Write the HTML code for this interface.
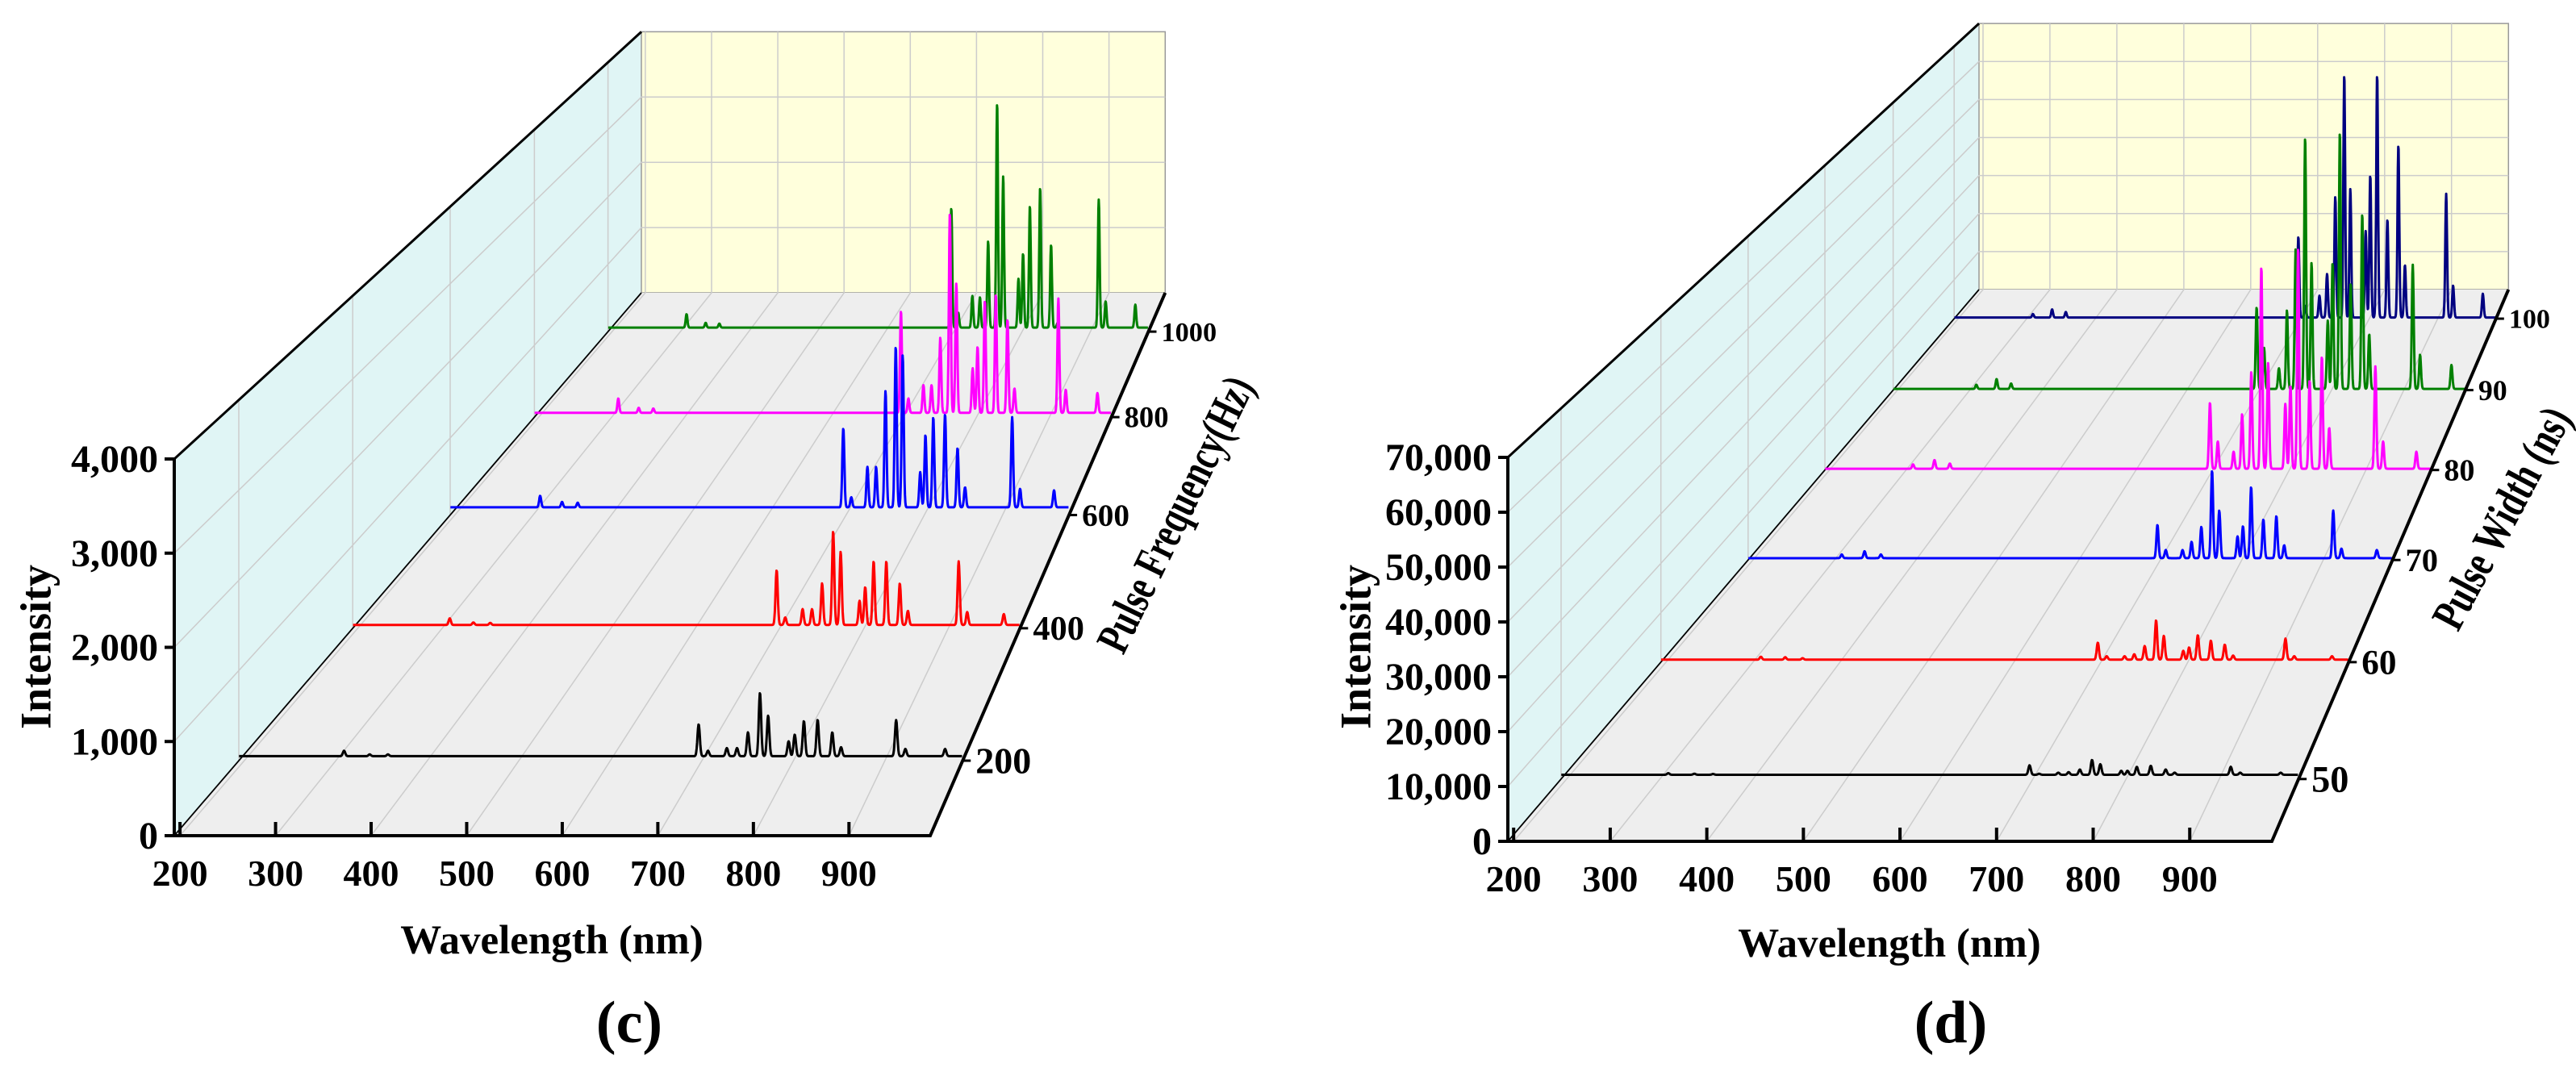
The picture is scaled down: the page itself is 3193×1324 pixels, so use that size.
<!DOCTYPE html>
<html><head><meta charset="utf-8">
<style>
html,body{margin:0;padding:0;background:#fff;}
svg{display:block;}
text{font-family:"Liberation Serif",serif;font-weight:bold;fill:#000;}
</style></head>
<body>
<svg id="fig" width="3193" height="1324" viewBox="0 0 3193 1324" xmlns="http://www.w3.org/2000/svg">
<g id="panelC"></g>
<g id="panelD"></g>
</svg>
<script>
// ---------- data ----------
const peakWavelengths = [309, 337, 357, 696.5, 706.7, 727.3, 738.4, 750.4, 763.5, 772.4, 794.8, 801.5, 811.5, 826.5, 842.5, 852.1, 912.3, 922.4, 965.8];
// panel (c): pulse frequency series
const cDepthValues = [200, 400, 600, 800, 1000];
const cDepthLabels = ["200", "400", "600", "800", "1000"];
const cBaselines = [50, 40, 100, 60, 60];
const cPeaks200 = [60, 20, 20, 355, 60, 90, 90, 265, 705, 450, 165, 240, 390, 405, 265, 100, 400, 80, 80];
const cPeaks400 = [80, 30, 25, 660, 90, 190, 190, 500, 1130, 880, 290, 455, 765, 765, 500, 170, 765, 155, 130];
const cPeaks600 = [150, 70, 60, 1027, 130, 525, 525, 1510, 2090, 1975, 456, 940, 1170, 1210, 770, 260, 1170, 240, 220];
const cPeaks800 = [200, 70, 60, 1420, 200, 385, 385, 1045, 2785, 1800, 620, 920, 1560, 1650, 1300, 340, 1590, 320, 275];
const cPeaks1000 = [200, 70, 60, 1780, 220, 470, 450, 1280, 3340, 2250, 725, 1100, 1810, 2080, 1230, 70, 1900, 390, 340];
const cYTicks = [0, 1000, 2000, 3000, 4000];
const cYTickLabels = ["0", "1,000", "2,000", "3,000", "4,000"];
// panel (d): pulse width series
const dDepthValues = [50, 60, 70, 80, 90, 100];
const dDepthLabels = ["50", "60", "70", "80", "90", "100"];
const dBaselines = [800, 500, 400, 300, 300, 300];
const dPeaks50 = [300, 200, 150, 1800, 200, 400, 500, 1000, 2800, 2000, 750, 750, 1500, 1700, 1000, 400, 1500, 400, 400];
const dPeaks60 = [600, 500, 300, 3450, 700, 700, 1100, 2760, 8000, 4830, 1800, 2480, 4970, 3860, 3040, 830, 4280, 700, 700];
const dPeaks70 = [800, 1500, 800, 7200, 1760, 1760, 3530, 6760, 18960, 10290, 4700, 6910, 15430, 8380, 9110, 2790, 10290, 2060, 1760];
const dPeaks80 = [1000, 2000, 1200, 15200, 6260, 3900, 12500, 22200, 46500, 24300, 14900, 19100, 50900, 20300, 25800, 9400, 23500, 6260, 3900];
const dPeaks90 = [1000, 2400, 1300, 19900, 10000, 5000, 19100, 34000, 61400, 30700, 16600, 30700, 62600, 25700, 42700, 13300, 30200, 8300, 5800];
const dPeaks100 = [900, 2100, 1400, 20800, 3000, 5600, 11200, 31000, 62500, 33100, 22200, 36600, 62500, 25200, 44400, 13500, 31800, 8200, 6100];
const dYTicks = [0, 10000, 20000, 30000, 40000, 50000, 60000, 70000];
const dYTickLabels = ["0", "10,000", "20,000", "30,000", "40,000", "50,000", "60,000", "70,000"];
const xTicks = [200, 300, 400, 500, 600, 700, 800, 900];
const xTickLabels = ["200", "300", "400", "500", "600", "700", "800", "900"];

const NS = "http://www.w3.org/2000/svg";
function mk(parent, tag, attrs){
  const e = document.createElementNS(NS, tag);
  for (const k in attrs) e.setAttribute(k, attrs[k]);
  parent.appendChild(e);
  return e;
}

function makePanel(P){
  const g = P.g;
  const K = 1 / P.S - 1;
  function depthF(v){ const d = (v - P.v0) / (P.v1 - P.v0); return d * (1 + K) / (1 + K * d); }
  function proj(lam, v, I){
    const f = depthF(v);
    const s = 1 - (1 - P.S) * f;
    const Lx = P.FL[0] + f * (P.BL[0] - P.FL[0]);
    const Ly = P.FL[1] + f * (P.BL[1] - P.FL[1]);
    return [Lx + (lam - P.lmin) / (P.lmax - P.lmin) * P.W * s, Ly - I * P.ppc * s, s];
  }
  const vF = P.v0, vB = P.v1, Imax = P.yTicks[P.yTicks.length - 1];
  const pt = (a) => a[0].toFixed(1) + "," + a[1].toFixed(1);
  let e = mk(g, "polygon", {points: [proj(P.lmin,vF,0),proj(P.lmin,vF,Imax),proj(P.lmin,vB,Imax),proj(P.lmin,vB,0)].map(pt).join(" "), fill:"#e0f5f5", stroke:"none"});
  
  
  e = mk(g, "polygon", {points: [proj(P.lmin,vB,0),proj(P.lmin,vB,Imax),proj(P.lmax,vB,Imax),proj(P.lmax,vB,0)].map(pt).join(" "), fill:"#ffffdc", stroke:"#999", "stroke-width":1.5});
  
  
  e = mk(g, "polygon", {points: [proj(P.lmin,vF,0),proj(P.lmax,vF,0),proj(P.lmax,vB,0),proj(P.lmin,vB,0)].map(pt).join(" "), fill:"#eeeeee", stroke:"none"});
  
  
  const grid = mk(g, "g", {stroke:"#cccccc", "stroke-width":1.5, fill:"none"});
  
  
  for (const t of P.xTicks){
    e = mk(grid, "path", {d:"M"+pt(proj(t,vF,0))+"L"+pt(proj(t,vB,0))+"L"+pt(proj(t,vB,Imax))});
    
  }
  for (const t of P.yTicks.slice(1, -1)){
    e = mk(grid, "path", {d:"M"+pt(proj(P.lmin,vF,t))+"L"+pt(proj(P.lmin,vB,t))+"L"+pt(proj(P.lmax,vB,t))});
    
  }
  for (const v of P.depthValues){
    e = mk(grid, "path", {d:"M"+pt(proj(P.lmin,v,0))+"L"+pt(proj(P.lmin,v,Imax))});
    
  }
  e = mk(g, "path", {d:"M"+pt(proj(P.lmin,vF,0))+"L"+pt(proj(P.lmin,vB,0)), stroke:"#000", "stroke-width":1.8, fill:"none"});
  
  
  e = mk(g, "path", {d:"M"+pt(proj(P.lmin,vF,Imax))+"L"+pt(proj(P.lmin,vB,Imax)), stroke:"#000", "stroke-width":3, fill:"none"});
  
  
  for (let i = P.series.length - 1; i >= 0; i--){
    const sr = P.series[i];
    const v = P.depthValues[i];
    let d = "";
    for (let lam = P.lmin + 0.3; lam <= P.lmax - 0.5; lam += 0.5){
      let I = P.baselines[i];
      for (let j = 0; j < peakWavelengths.length; j++){
        const dl = lam - peakWavelengths[j];
        if (Math.abs(dl) < 8) I += sr[j] * Math.exp(-dl * dl / (2 * 1.3 * 1.3));
      }
      d += (d ? "L" : "M") + pt(proj(lam, v, I));
    }
    e = mk(g, "path", {d:d, stroke:P.colors[i], "stroke-width":3, fill:"none", "stroke-linejoin":"round"});
    
    
  }
  const yTop = proj(P.lmin,vF,Imax), o = proj(P.lmin,vF,0), xr = proj(P.lmax,vF,0), br = proj(P.lmax,vB,0);
  e = mk(g, "path", {d:"M"+pt(yTop)+"L"+pt(o)+"L"+pt(xr)+"L"+pt(br), stroke:"#000", "stroke-width":4, fill:"none"});
  
  
  P.yTicks.forEach((t, k) => {
    const p = proj(P.lmin, vF, t);
    e = mk(g, "line", {x1:p[0]-12, y1:p[1], x2:p[0], y2:p[1], stroke:"#000", "stroke-width":4});
    
    
    e = mk(g, "text", {x:P.yLabelX, y:p[1]+16, "text-anchor":"end", "font-size":48});
    e.textContent = P.yTickLabels[k];
    
    
  });
  P.xTicks.forEach((t, k) => {
    const p = proj(t, vF, 0);
    e = mk(g, "line", {x1:p[0], y1:p[1], x2:p[0], y2:p[1]-17, stroke:"#000", "stroke-width":4});
    
    
    e = mk(g, "text", {x:p[0], y:p[1]+62, "text-anchor":"middle", "font-size":46});
    e.textContent = xTickLabels[k];
    
    
  });
  P.depthValues.forEach((v, k) => {
    const p = proj(P.lmax, v, 0);
    e = mk(g, "line", {x1:p[0], y1:p[1], x2:p[0]+10, y2:p[1], stroke:"#000", "stroke-width":3});
    
    
    const fs = 48 * p[2];
    e = mk(g, "text", {x:p[0]+16, y:p[1]+fs*0.34, "font-size":fs.toFixed(1)});
    e.textContent = P.depthLabels[k];
    
    
  });
  e = mk(g, "text", {x:P.intensityPos[0], y:P.intensityPos[1], "text-anchor":"middle", "font-size":54, transform:"rotate(-90 "+P.intensityPos[0]+" "+P.intensityPos[1]+")", "dominant-baseline":"middle"});
  e.textContent = "Intensity";
  
  
  e = mk(g, "text", {x:P.wlPos[0], y:P.wlPos[1]+17, "text-anchor":"middle", "font-size":51});
  e.textContent = "Wavelength (nm)";
  
  
  e = mk(g, "text", {x:0, y:0, "text-anchor":"middle", "font-size":50, textLength:P.depthTitleLen, lengthAdjust:"spacingAndGlyphs", "dominant-baseline":"middle",
    transform:"translate("+P.depthTitlePos[0]+" "+P.depthTitlePos[1]+") rotate("+P.depthTitleAngle+") scale(1 1.15)"});
  e.textContent = P.depthTitle;
  
  
  e = mk(g, "text", {x:P.capPos[0], y:P.capPos[1]+25, "text-anchor":"middle", "font-size":74});
  e.textContent = P.caption;
  
  
}

makePanel({
  g: document.getElementById("panelC"),
  FL:[216,1036], BL:[795,363], W:937, S:0.693, ppc:467/4000, lmin:194, lmax:985, v0:100, v1:1100,
  depthValues:cDepthValues, depthLabels:cDepthLabels, baselines:cBaselines,
  series:[cPeaks200, cPeaks400, cPeaks600, cPeaks800, cPeaks1000],
  colors:["#000000","#ff0000","#0000ff","#ff00ff","#008000"],
  yTicks:cYTicks, yTickLabels:cYTickLabels, xTicks:xTicks, yLabelX:196,
  intensityPos:[50,802], wlPos:[684,1165], capPos:[780,1267],
  depthTitle:"Pulse Frequency(Hz)", depthTitlePos:[1462,640], depthTitleAngle:-64, depthTitleLen:372,
  caption:"(c)"
});
makePanel({
  g: document.getElementById("panelD"),
  FL:[1869,1043], BL:[2453,359], W:947, S:0.693, ppc:476/70000, lmin:194, lmax:985, v0:45.2, v1:104.4,
  depthValues:dDepthValues, depthLabels:dDepthLabels, baselines:dBaselines,
  series:[dPeaks50, dPeaks60, dPeaks70, dPeaks80, dPeaks90, dPeaks100],
  colors:["#000000","#ff0000","#0000ff","#ff00ff","#008000","#000080"],
  yTicks:dYTicks, yTickLabels:dYTickLabels, xTicks:xTicks, yLabelX:1849,
  intensityPos:[1686,802], wlPos:[2342,1169], capPos:[2418,1267],
  depthTitle:"Pulse Width (ns)", depthTitlePos:[3106,645], depthTitleAngle:-62, depthTitleLen:302,
  caption:"(d)"
});
</script>
</body></html>
